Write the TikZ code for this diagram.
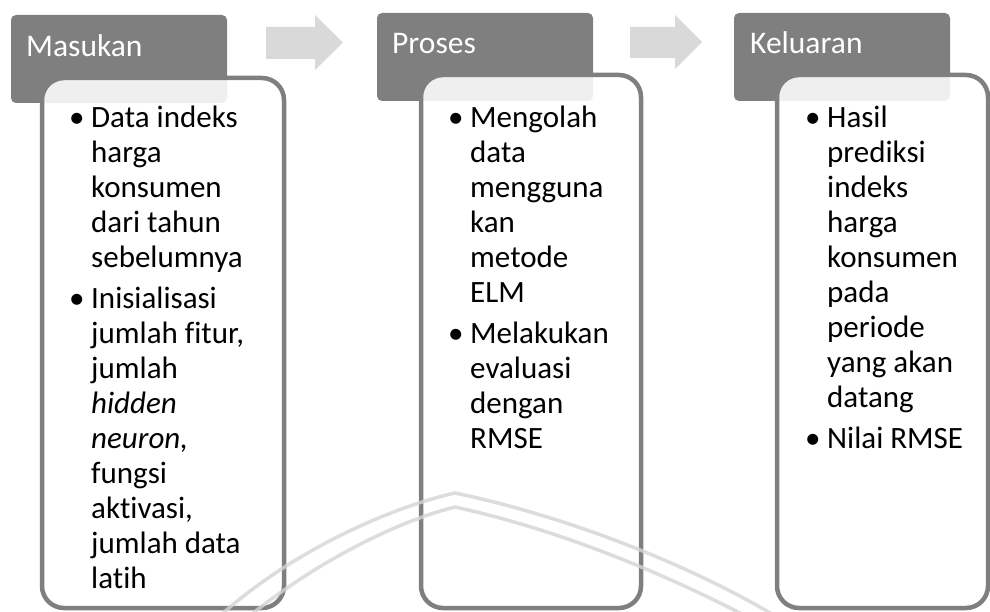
\documentclass[tikz,border=0pt]{standalone}
\usepackage{fontspec}
\setmainfont{Carlito}[Ligatures=NoCommon]
\usepackage{array}

\definecolor{hdrgray}{HTML}{7F7F7F}
\definecolor{edgegray}{HTML}{7F7F7F}
\definecolor{arrowgray}{HTML}{D9D9D9}
\definecolor{wmgray}{HTML}{D4D4D4}

\newcommand\itembullet{\makebox[22pt][l]{•}}

\begin{document}
\begin{tikzpicture}[x=1pt,y=-1pt,
  header/.style={rectangle, fill=hdrgray, rounded corners=5pt, inner sep=0, outer sep=0,
    anchor=north west, minimum width=216pt, minimum height=88pt},
  body/.style={rectangle, draw=edgegray, line width=4.5pt, fill=white, fill opacity=0.88,
    rounded corners=22pt, inner sep=0, outer sep=0, anchor=north west},
  flowarrow/.style={fill=arrowgray},
  headtext/.style={anchor=base west, inner sep=0, text=white, font=\fontsize{31.5}{35}\selectfont},
  bodytext/.style={anchor=base west, inner sep=0, font=\fontsize{31}{35}\selectfont},
  watermark/.style={draw=wmgray, line width=3.5pt, opacity=0.8}
]
\useasboundingbox (0,0) rectangle (990,612);

% headers
\node[header] (h1) at (11,15) {};
\node[header] (h2) at (377,13) {};
\node[header] (h3) at (734,13) {};

% content boxes lying over the headers
\node[body, minimum width=242pt, minimum height=530pt] (b1) at (42,78) {};
\node[body, minimum width=220pt, minimum height=533pt] (b2) at (421,75) {};
\node[body, minimum width=211pt, minimum height=533pt] (b3) at (777,75) {};

% block arrows between the stages
\fill[flowarrow] (266,27) -- (315,27) -- (315,15) -- (343,42.5) -- (315,70) -- (315,59) -- (266,59) -- cycle;
\fill[flowarrow] (630,27) -- (675,27) -- (675,15) -- (702,42) -- (675,69) -- (675,58) -- (630,58) -- cycle;

% header titles
\node[headtext] (t1) at (26,57) {Masukan};
\node[headtext] (t2) at (392,54) {Proses};
\node[headtext] (t3) at (750,54) {Keluaran};

% bullet lists
\node[bodytext] (l1) at (69,128) {%
\begin{tabular}[t]{@{}l@{}l@{}}
\itembullet & Data indeks\\
 & harga\\
 & konsumen\\
 & dari tahun\\
 & sebelumnya\\[6pt]
\itembullet & Inisialisasi\\
 & jumlah fitur,\\
 & jumlah\\
 & \textit{hidden}\\
 & \textit{neuron,}\\
 & fungsi\\
 & aktivasi,\\
 & jumlah data\\
 & latih
\end{tabular}};

\node[bodytext] (l2) at (448,128) {%
\begin{tabular}[t]{@{}l@{}l@{}}
\itembullet & Mengolah\\
 & data\\
 & mengguna\\
 & kan\\
 & metode\\
 & ELM\\[6pt]
\itembullet & Melakukan\\
 & evaluasi\\
 & dengan\\
 & RMSE
\end{tabular}};

\node[bodytext] (l3) at (805,128) {%
\begin{tabular}[t]{@{}l@{}l@{}}
\itembullet & Hasil\\
 & prediksi\\
 & indeks\\
 & harga\\
 & konsumen\\
 & pada\\
 & periode\\
 & yang akan\\
 & datang\\[6pt]
\itembullet & Nilai RMSE
\end{tabular}};

% faint arch of the background emblem
\draw[watermark] (222,614) .. controls (300,545) and (400,505) .. (455,493)
  .. controls (560,515) and (680,560) .. (772,614);
\draw[watermark] (252,614) .. controls (322,558) and (402,520) .. (455,507)
  .. controls (560,530) and (660,572) .. (742,614);
\end{tikzpicture}
\end{document}
